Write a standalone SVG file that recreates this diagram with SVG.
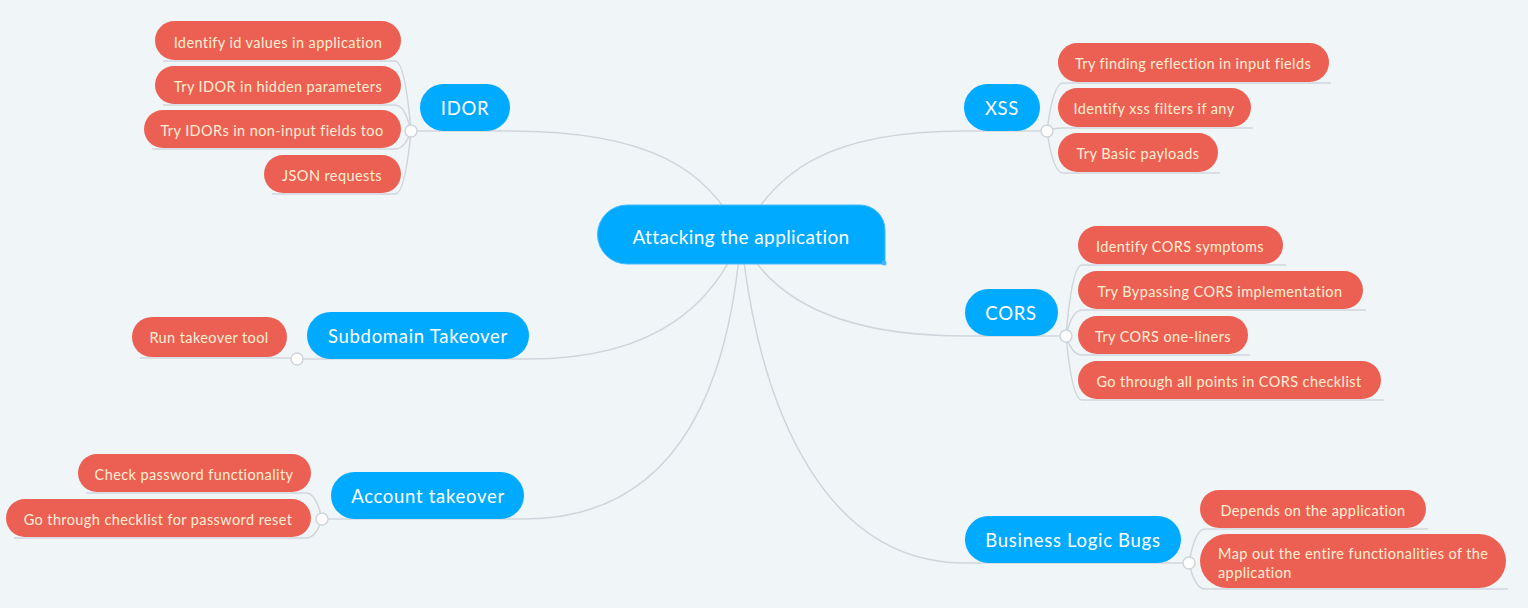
<svg xmlns="http://www.w3.org/2000/svg" width="1528" height="608" viewBox="0 0 1528 608">
<style>
.bg{fill:#f0f5f8}
.ln{fill:none;stroke:#cfd6db;stroke-width:1.5}
.dot{fill:#ffffff;stroke:#cfd6db;stroke-width:1.5}
.leaf{fill:#ec6054}
.main{fill:#00aaff}
.lt{font-family:Lato,"Open Sans",sans-serif;font-size:14.5px;letter-spacing:0.4px;fill:#fdeed3;text-anchor:middle;dominant-baseline:central}
.mt{font-family:Lato,"Open Sans",sans-serif;font-size:18.5px;letter-spacing:0.7px;fill:#ffffff;text-anchor:middle;dominant-baseline:central}
.ct{font-family:Lato,"Open Sans",sans-serif;font-size:19px;letter-spacing:0.4px;fill:#ffffff;text-anchor:middle;dominant-baseline:central}
</style>
<rect class="bg" x="0" y="0" width="1528" height="608"/>
<g id="connectors">
<path class="ln" d="M741 237 C710 170 650 131 510 131 L411 131"/>
<path class="ln" d="M741 237 C775 170 830 131 964 131 L1047 131"/>
<path class="ln" d="M741 237 C770 300 840 336 965 336 L1066 336"/>
<path class="ln" d="M741 237 C760 420 830 563 965 563 L1189 563"/>
<path class="ln" d="M741 237 C715 300 660 359 529 359 L297 359"/>
<path class="ln" d="M741 237 C728 400 670 519 524 519 L322 519"/>
<path class="ln" d="M411 131 Q405 61 395 61 L163 61"/>
<path class="ln" d="M411 131 Q405 105 395 105 L163 105"/>
<path class="ln" d="M411 131 Q405 149 395 149 L152 149"/>
<path class="ln" d="M411 131 Q405 194 395 194 L272 194"/>
<path class="ln" d="M1047 131 Q1053 83 1063 83 L1331 83"/>
<path class="ln" d="M1047 131 Q1053 128 1063 128 L1253 128"/>
<path class="ln" d="M1047 131 Q1053 173 1063 173 L1220 173"/>
<path class="ln" d="M1066 336 Q1072 265 1082 265 L1286 265"/>
<path class="ln" d="M1066 336 Q1072 310 1082 310 L1366 310"/>
<path class="ln" d="M1066 336 Q1072 355 1082 355 L1250 355"/>
<path class="ln" d="M1066 336 Q1072 400 1082 400 L1384 400"/>
<path class="ln" d="M1189 563 Q1195 529 1205 529 L1428 529"/>
<path class="ln" d="M1189 563 Q1195 589 1205 589 L1508 589"/>
<path class="ln" d="M297 359 Q292 358 285 358 L140 358"/>
<path class="ln" d="M322 519 Q316 493 306 493 L86 493"/>
<path class="ln" d="M322 519 Q316 538 306 538 L14 538"/>
</g>
<g id="center">
<path d="M627 205 L860 205 A25 25 0 0 1 885 230 L885 264 L627 264 A29.5 29.5 0 0 1 627 205 Z" fill="#00aaff" stroke="#45bdff" stroke-width="1"/>
<circle cx="884" cy="263" r="2.5" fill="#3fb6ff"/>
<text class="ct" x="741" y="236">Attacking the application</text>
</g>
<g id="idor">
<rect class="main" x="420" y="84" width="90" height="47" rx="23.5"/>
<text class="mt" x="465" y="108">IDOR</text>
</g>
<g id="idor-1"><rect class="leaf" x="155" y="21" width="246" height="39" rx="19.5"/><text class="lt" x="278" y="42">Identify id values in application</text></g>
<g id="idor-2"><rect class="leaf" x="155" y="66" width="246" height="38" rx="19"/><text class="lt" x="278" y="86">Try IDOR in hidden parameters</text></g>
<g id="idor-3"><rect class="leaf" x="144" y="110" width="257" height="38" rx="19"/><text class="lt" x="272" y="130">Try IDORs in non-input fields too</text></g>
<g id="idor-4"><rect class="leaf" x="264" y="155" width="137" height="38" rx="19"/><text class="lt" x="332" y="175">JSON requests</text></g>
<g id="xss">
<rect class="main" x="964" y="84" width="76" height="47" rx="23.5"/>
<text class="mt" x="1002" y="108">XSS</text>
</g>
<g id="xss-1"><rect class="leaf" x="1058" y="43" width="271" height="39" rx="19.5"/><text class="lt" x="1193" y="63">Try finding reflection in input fields</text></g>
<g id="xss-2"><rect class="leaf" x="1058" y="88" width="193" height="39" rx="19.5"/><text class="lt" x="1154" y="108">Identify xss filters if any</text></g>
<g id="xss-3"><rect class="leaf" x="1058" y="133" width="160" height="39" rx="19.5"/><text class="lt" x="1138" y="153">Try Basic payloads</text></g>
<g id="cors">
<rect class="main" x="965" y="289" width="93" height="47" rx="23.5"/>
<text class="mt" x="1011" y="313">CORS</text>
</g>
<g id="cors-1"><rect class="leaf" x="1078" y="226" width="205" height="38" rx="19"/><text class="lt" x="1180" y="246">Identify CORS symptoms</text></g>
<g id="cors-2"><rect class="leaf" x="1078" y="271" width="285" height="38" rx="19"/><text class="lt" x="1220" y="291">Try Bypassing CORS implementation</text></g>
<g id="cors-3"><rect class="leaf" x="1078" y="316" width="170" height="38" rx="19"/><text class="lt" x="1163" y="336">Try CORS one-liners</text></g>
<g id="cors-4"><rect class="leaf" x="1078" y="361" width="303" height="38" rx="19"/><text class="lt" x="1229" y="381">Go through all points in CORS checklist</text></g>
<g id="business">
<rect class="main" x="965" y="516" width="216" height="47" rx="23.5"/>
<text class="mt" x="1073" y="540">Business Logic Bugs</text>
</g>
<g id="business-1"><rect class="leaf" x="1200" y="490" width="226" height="38" rx="19"/><text class="lt" x="1313" y="510">Depends on the application</text></g>
<g id="business-2"><rect class="leaf" x="1200" y="534" width="306" height="54" rx="27"/><text class="lt" x="1218" y="553" style="text-anchor:start">Map out the entire functionalities of the</text><text class="lt" x="1218" y="572" style="text-anchor:start">application</text></g>
<g id="subdomain">
<rect class="main" x="307" y="312" width="222" height="47" rx="23.5"/>
<text class="mt" x="418" y="336">Subdomain Takeover</text>
</g>
<g id="subdomain-1"><rect class="leaf" x="132" y="317" width="155" height="40" rx="20"/><text class="lt" x="209" y="337">Run takeover tool</text></g>
<g id="account">
<rect class="main" x="331" y="472" width="193" height="47" rx="23.5"/>
<text class="mt" x="428" y="496">Account takeover</text>
</g>
<g id="account-1"><rect class="leaf" x="78" y="454" width="233" height="38" rx="19"/><text class="lt" x="194" y="474">Check password functionality</text></g>
<g id="account-2"><rect class="leaf" x="6" y="499" width="305" height="38" rx="19"/><text class="lt" x="158" y="519">Go through checklist for password reset</text></g>
<g id="joints">
<circle class="dot" cx="411" cy="131" r="6"/>
<circle class="dot" cx="1047" cy="131" r="6"/>
<circle class="dot" cx="1066" cy="336" r="6"/>
<circle class="dot" cx="1189" cy="563" r="6"/>
<circle class="dot" cx="297" cy="359" r="6"/>
<circle class="dot" cx="322" cy="519" r="6"/>
</g>
</svg>
